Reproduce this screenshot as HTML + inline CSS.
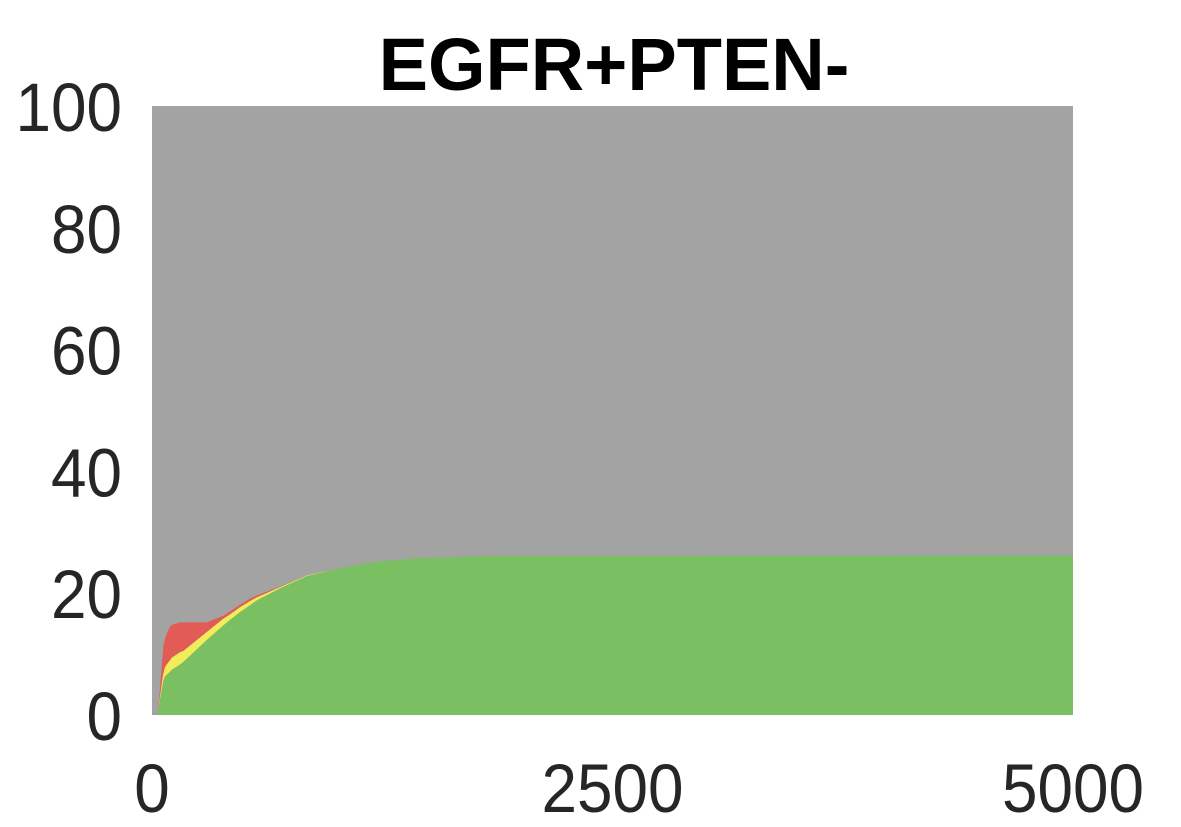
<!DOCTYPE html>
<html><head><meta charset="utf-8"><style>
html,body{margin:0;padding:0;background:#fff;}
svg{display:block;font-family:"Liberation Sans",Arial,sans-serif;}
</style></head><body>
<svg id="chart" width="1181" height="827" xmlns="http://www.w3.org/2000/svg">
<text x="614" y="90" text-anchor="middle" font-size="74" font-weight="bold" fill="#000">EGFR+PTEN-</text>
<rect x="152" y="106" width="921" height="609" fill="#a3a3a3"/>
<g id="areas"></g>
<g id="yticks"></g>
<g id="xticks"></g>
</svg>
<script>
const times = [30,43,61,70,80,98,107,152,170,297,387,423,478,532,568,695,840,1020,1200,1417,1797,5000];
const green = [0,2.5,5.5,6.3,6.6,7.1,7.4,8.3,8.7,12.3,14.7,15.6,16.9,18,18.8,20.8,22.8,24.1,25.1,25.7,26.1,26.2];
const yellow = [0,0.5,1.2,1.5,1.7,1.9,2.0,2.0,1.8,1.3,1.1,0.9,0.8,0.7,0.5,0.2,0.1,0,0,0,0,0];
const red = [0,1.1,4.5,4.7,5.1,5.5,5.4,4.9,4.7,1.6,0.5,0.5,0.4,0.4,0.3,0.1,0,0,0,0,0,0];
const yTickLabels = ["0","20","40","60","80","100"];
const yTickValues = [0,20,40,60,80,100];
const xTickLabels = ["0","2500","5000"];
const xTickValues = [0,2500,5000];

const X0=152,X1=1073,Y0=715,Y1=106;
const xs = t => X0 + (t/5000)*(X1-X0);
const ys = v => Y0 - (v/100)*(Y0-Y1);
const NS="http://www.w3.org/2000/svg";
const areas=document.getElementById('areas');
function band(lower, upper, color, name){
  let d="M"+xs(times[0])+","+ys(upper[0]);
  for(let i=1;i<times.length;i++) d+="L"+xs(times[i])+","+ys(upper[i]);
  for(let i=times.length-1;i>=0;i--) d+="L"+xs(times[i])+","+ys(lower[i]);
  d+="Z";
  const p=document.createElementNS(NS,'path');
  p.setAttribute('d',d);p.setAttribute('fill',color);
  
  
  areas.appendChild(p);
}
const zero=times.map(()=>0);
const gTop=green.slice();
const yTop=green.map((g,i)=>g+yellow[i]);
const rTop=yTop.map((v,i)=>v+red[i]);
band(yTop,rTop,'#e05c55','red-area');
band(gTop,yTop,'#f0ed58','yellow-area');
band(zero,gTop,'#7abf61','green-area');

const yt=document.getElementById('yticks');
yTickValues.forEach((v,i)=>{
  const t=document.createElementNS(NS,'text');
  t.setAttribute('x',122);t.setAttribute('y',ys(v)+25);
  t.setAttribute('text-anchor','end');t.setAttribute('font-size','69');t.setAttribute('fill','#262626');
  t.setAttribute('textLength', String(yTickLabels[i].length*35.5));
  t.setAttribute('lengthAdjust','spacingAndGlyphs');
  t.textContent=yTickLabels[i];
  
  
  yt.appendChild(t);
});
const xt=document.getElementById('xticks');
xTickValues.forEach((v,i)=>{
  const t=document.createElementNS(NS,'text');
  t.setAttribute('x',xs(v));t.setAttribute('y',812);
  t.setAttribute('text-anchor','middle');t.setAttribute('font-size','69');t.setAttribute('fill','#262626');
  t.setAttribute('textLength', String(xTickLabels[i].length*35.5));
  t.setAttribute('lengthAdjust','spacingAndGlyphs');
  t.textContent=xTickLabels[i];
  
  
  xt.appendChild(t);
});
</script>
</body></html>
